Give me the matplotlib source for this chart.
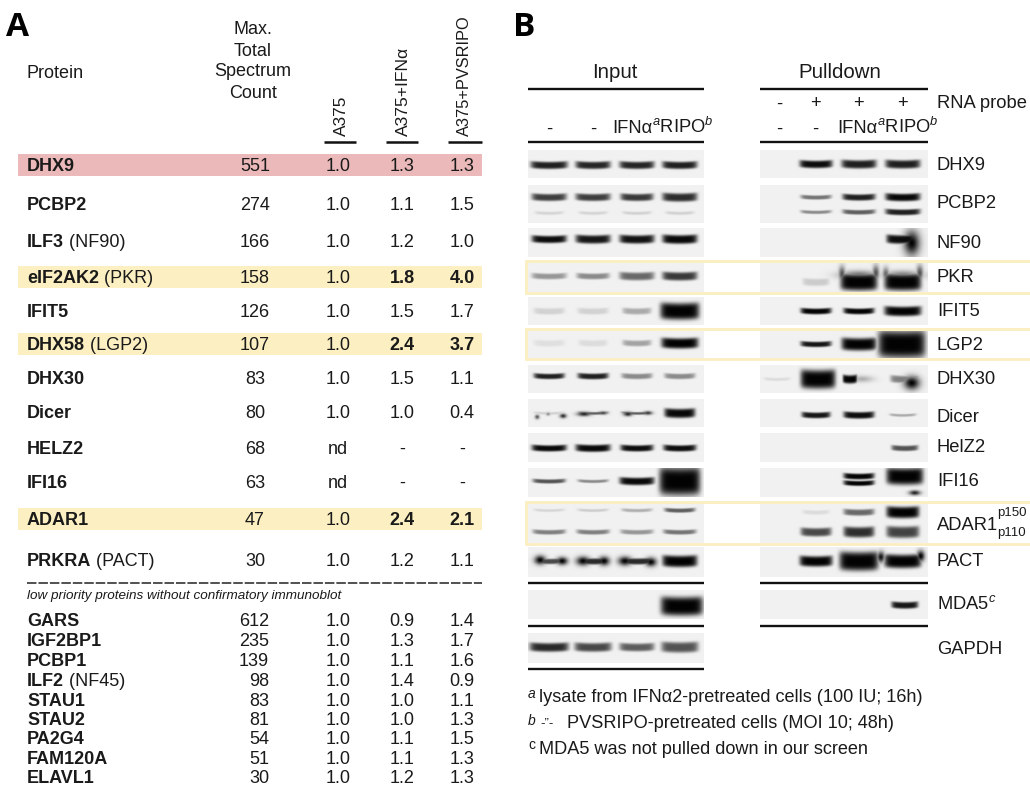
import numpy as np
import matplotlib
matplotlib.use("Agg")
import matplotlib.pyplot as plt
from matplotlib.patches import Rectangle

plt.rcParams['font.family'] = ['Liberation Sans', 'DejaVu Sans']
plt.rcParams['mathtext.fontset'] = 'custom'
plt.rcParams['mathtext.rm'] = 'Liberation Sans'
plt.rcParams['mathtext.it'] = 'Liberation Sans:italic'
plt.rcParams['mathtext.bf'] = 'Liberation Sans:bold'

# ---------- Panel A table ----------
proteins = ['DHX9', 'PCBP2', 'ILF3', 'eIF2AK2', 'IFIT5', 'DHX58', 'DHX30', 'Dicer', 'HELZ2', 'IFI16', 'ADAR1', 'PRKRA']
aliases = ['', '', ' (NF90)', ' (PKR)', '', ' (LGP2)', '', '', '', '', '', ' (PACT)']
counts = ['551', '274', '166', '158', '126', '107', '83', '80', '68', '63', '47', '30']
a375 = ['1.0', '1.0', '1.0', '1.0', '1.0', '1.0', '1.0', '1.0', 'nd', 'nd', '1.0', '1.0']
ifn = ['1.3', '1.1', '1.2', '1.8', '1.5', '2.4', '1.5', '1.0', '-', '-', '2.4', '1.2']
pvs = ['1.3', '1.5', '1.0', '4.0', '1.7', '3.7', '1.1', '0.4', '-', '-', '2.1', '1.1']
highlight = {'DHX9': '#ebb9b9', 'eIF2AK2': '#fcf0c2', 'DHX58': '#fcf0c2', 'ADAR1': '#fcf0c2'}
bold_values = {'eIF2AK2', 'DHX58', 'ADAR1'}

low_proteins = ['GARS', 'IGF2BP1', 'PCBP1', 'ILF2', 'STAU1', 'STAU2', 'PA2G4', 'FAM120A', 'ELAVL1']
low_aliases = ['', '', '', ' (NF45)', '', '', '', '', '']
low_counts = ['612', '235', '139', '98', '83', '81', '54', '51', '30']
low_a375 = ['1.0'] * 9
low_ifn = ['0.9', '1.3', '1.1', '1.4', '1.0', '1.0', '1.1', '1.1', '1.2']
low_pvs = ['1.4', '1.7', '1.6', '0.9', '1.1', '1.3', '1.5', '1.3', '1.3']

# ---------- Panel B blots: darkness of each lane, per band ----------
blot_labels = ['DHX9', 'PCBP2', 'NF90', 'PKR', 'IFIT5', 'LGP2', 'DHX30', 'Dicer', 'HelZ2', 'IFI16', 'ADAR1', 'PACT', 'MDA5$^{c}$', 'GAPDH']
input_dark = {
    'DHX9': [[.85, .82, .82, .85]], 'PCBP2': [[.7, .7, .72, .78], [.07, .07, .08, .08]],
    'NF90': [[.95, .9, .92, .97]], 'PKR': [[.3, .35, .5, .72]],
    'IFIT5': [[.08, .08, .22, 1]], 'LGP2': [[.04, .05, .25, 1]],
    'DHX30': [[.85, .85, .35, .35]], 'Dicer': [[.08, .55, .55, .97]],
    'HelZ2': [[.97, .97, .95, .95]], 'IFI16': [[.6, .35, .97, 1]],
    'ADAR1': [[.07, .1, .2, .55], [.4, .4, .3, .45]],
    'PACT': [[.65, .8, .8, 1]], 'MDA5': [[0, 0, 0, 1]], 'GAPDH': [[.8, .65, .55, .6]],
}
pull_dark = {
    'DHX9': [[0, .95, .85, .85]], 'PCBP2': [[0, .45, .85, .97], [0, .35, .55, .85]],
    'NF90': [[0, 0, 0, .95]], 'PKR': [[0, .1, 1, 1]],
    'IFIT5': [[0, 1, 1, 1]], 'LGP2': [[0, .9, 1, 1]],
    'DHX30': [[.05, 1, 1, .4]], 'Dicer': [[0, .9, .95, .22]],
    'HelZ2': [[0, 0, 0, .6]], 'IFI16': [[0, 0, 1, 1], [0, 0, 1, 0]],
    'ADAR1': [[0, .05, .5, 1], [0, .65, .78, .68]],
    'PACT': [[0, 1, 1, 1]], 'MDA5': [[0, 0, 0, .9]],
}

# ---------- layout (pixels) ----------
W, H = 1030, 787
fig = plt.figure(figsize=(W / 100, H / 100), dpi=100)
ax = fig.add_axes([0, 0, 1, 1])
ax.set_xlim(0, W)
ax.set_ylim(H, 0)
ax.axis('off')
TXT = '#1a1a1a'
renderer = fig.canvas.get_renderer()

row_y = [165, 204, 241, 277, 311, 344, 378, 412, 448, 482, 519, 560]
low_y = [620, 640, 660, 680, 700, 719, 738, 758, 777]
col_x = [338, 402, 462]
FS = 13


def name(x, y, bold, plain):
    t = ax.text(x, y, bold, fontsize=FS, weight='bold', color=TXT, va='baseline', ha='left')
    if plain:
        e = t.get_window_extent(renderer).transformed(ax.transData.inverted())
        ax.text(e.x1, y, plain, fontsize=FS, color=TXT, va='baseline', ha='left')


for i, p in enumerate(proteins):
    y = row_y[i]
    if p in highlight:
        ax.add_patch(Rectangle((18, y - 11), 464, 21.5, fc=highlight[p], ec='none', zorder=0))
    name(27, y + 6, p, aliases[i])
    ax.text(255, y + 6, counts[i], fontsize=FS, ha='center', va='baseline', color=TXT)
    for cx, col in zip(col_x, (a375, ifn, pvs)):
        ax.text(cx, y + 6, col[i], fontsize=FS, ha='center', va='baseline', color=TXT,
                weight='bold' if (p in bold_values and col is not a375) else 'normal')

for i, p in enumerate(low_proteins):
    y = low_y[i]
    name(27, y + 6, p, low_aliases[i])
    ax.text(269, y + 6, low_counts[i], fontsize=FS, ha='right', va='baseline', color=TXT)
    for cx, col in zip(col_x, (low_a375, low_ifn, low_pvs)):
        ax.text(cx, y + 6, col[i], fontsize=FS, ha='center', va='baseline', color=TXT)

for s, y in zip(['Max.', 'Total', 'Spectrum', 'Count'], [30, 51, 72, 94]):
    ax.text(253, y, s, fontsize=FS, ha='center', va='center', color=TXT)
ax.text(27, 73, 'Protein', fontsize=FS, ha='left', va='center', color=TXT)
for s, x, fz in zip(['A375', 'A375+IFNα', 'A375+PVSRIPO'], [341, 403, 464], [12.4, 12.6, 11.8]):
    ax.text(x, 136, s, fontsize=fz, rotation=90, ha='center', va='bottom', color=TXT)
for x0, x1 in [(324, 356), (386, 418), (448, 482)]:
    ax.plot([x0, x1], [142, 142], color='#111111', lw=1.8, solid_capstyle='butt')
ax.plot([27, 482], [583, 583], color='#222222', lw=1.1, dashes=(6.2, 1.3))
ax.text(27, 596, 'low priority proteins without confirmatory immunoblot', fontsize=9.7,
        style='italic', va='center', color=TXT)

ax.text(6, 27, 'A', fontsize=24, weight='bold', family='Open Sans', va='center', color='black')
ax.text(513, 27, 'B', fontsize=24, weight='bold', family='Open Sans', va='center', color='black')

# ---------- blots ----------
input_lanes = [549, 593, 637, 680]
pull_lanes = [780, 816, 859, 903]
panel_rows = {'DHX9': (150, 178), 'PCBP2': (185, 223), 'NF90': (228, 257), 'PKR': (263, 292),
              'IFIT5': (297, 325), 'LGP2': (331, 358), 'DHX30': (365, 393), 'Dicer': (399, 427),
              'HelZ2': (433, 462), 'IFI16': (468, 497), 'ADAR1': (503, 543), 'PACT': (547, 577),
              'MDA5': (590, 619), 'GAPDH': (633, 663)}
# band geometry: y centre per band, half height and half width per lane
input_geom = {
    'DHX9': [(165, [3.5, 3.5, 3.5, 3.5], [18, 17, 17, 17])],
    'PCBP2': [(197, [3.4, 3.4, 3.4, 4], [17, 17, 16, 17]), (213, [1.5] * 4, [14] * 4)],
    'NF90': [(239, [3.5, 4, 4, 4.2], [17, 17, 17, 17])],
    'PKR': [(276, [2.8, 2.8, 3.8, 4], [17, 16, 17, 17])],
    'IFIT5': [(311, [3, 3, 3, 8], [15, 15, 14, 19])],
    'LGP2': [(343, [3, 3, 2.8, 5], [15, 14, 14, 18])],
    'DHX30': [(376, [2.6, 2.8, 2.6, 2.6], [15, 15, 15, 15])],
    'Dicer': [(413, [1.3, 1.3, 1.3, 4.4], [15, 15, 15, 15])],
    'HelZ2': [(448, [3, 3.4, 3, 3], [17, 17, 16, 16])],
    'IFI16': [(481, [2, 1.5, 3.6, 13.5], [16, 15, 17, 20])],
    'ADAR1': [(510, [1.3, 1.3, 1.6, 2], [15, 15, 15, 15]), (532, [2.2, 2.2, 2.2, 2.2], [16, 16, 16, 16])],
    'PACT': [(561, [2.6, 3, 3, 5.5], [15, 16, 17, 17])],
    'MDA5': [(606, [9, 9, 9, 9], [20, 20, 20, 20.5])],
    'GAPDH': [(647, [4.2, 4.2, 3.8, 5], [19, 18, 17, 18])],
}
pull_geom = {
    'DHX9': [(164, [3.5, 3.6, 4, 4], [16, 16, 17, 17])],
    'PCBP2': [(197, [2, 2, 3, 3.6], [15, 15, 16, 17]), (212, [1.6, 1.6, 2.2, 2.8], [15, 15, 16, 17])],
    'NF90': [(239, [3, 3, 3, 4.2], [12, 12, 12, 14])],
    'PKR': [(282, [3, 3.5, 8, 8], [14, 13, 18, 18])],
    'IFIT5': [(311, [2.2, 2.8, 2.8, 4.6], [15, 15, 15, 18])],
    'LGP2': [(344, [2.2, 2.6, 6, 13], [15, 15, 17, 23])],
    'DHX30': [(379, [1.5, 9, 4, 3.5], [13, 17, 7, 14])],
    'Dicer': [(415, [2.4, 2.8, 3.2, 1.3], [15, 14, 15, 13])],
    'HelZ2': [(448, [2, 2, 2, 2.6], [12, 12, 12, 13])],
    'IFI16': [(476, [2, 2, 2.8, 8], [13, 13, 15, 18]), (483, [2, 2, 2.4, 2], [13, 13, 15, 15])],
    'ADAR1': [(512, [2, 2, 3, 5.5], [13, 13, 15, 16]), (532, [3.5, 4, 5, 5.5], [15, 15, 15, 16])],
    'PACT': [(561, [4, 5, 9, 6.5], [15, 16, 19, 18])],
    'MDA5': [(605, [2.5, 2.5, 2.5, 3.2], [13, 13, 13, 13])],
}
# offset of a lane's band from the lane centre, where a blot deviates
lane_shift = {('pull', 'LGP2'): [0, 0, 0, -1], ('pull', 'DHX30'): [-3, 2, -9, 2],
              ('pull', 'NF90'): [0, 0, 0, -2], ('pull', 'HelZ2'): [0, 0, 0, 2], ('pull', 'MDA5'): [0, 0, 0, 2],
              ('pull', 'IFI16'): [0, 0, 0, 2], ('input', 'MDA5'): [0, 0, 0, 2]}
# irregular blobs: name -> list of (x, y, half width, half height, darkness)
input_blobs = {
    'Dicer': [(537, 417, 2, 2, .6), (548, 414, 2, 1.5, .35), (563, 416, 3, 2, .8),
              (584, 414, 6, 2, .85), (603, 413, 4, 1.5, .7), (628, 414, 4, 2, .85), (648, 413, 4, 1.7, .75)],
    'PACT': [(540, 560, 5, 4, 1), (562, 561, 5, 3.5, 1), (583, 561, 6, 4, 1), (604, 561, 5, 4, 1),
             (625, 561, 6, 4, 1), (651, 562, 5, 4, 1)],
}
pull_blobs = {
    'NF90': [(912, 243, 7, 11, 1)],
    'PKR': [(859, 275, 17, 4, .45), (903, 275, 17, 4, .4),
            (842, 274, 3, 7, .6), (876, 273, 3, 7, .6), (886, 274, 3, 6, .5), (920, 273, 3, 7, .6)],
    'IFI16': [(915, 493, 5, 2.2, .85)],
    'DHX30': [(912, 383, 7, 6, 1), (862, 379, 10, 3, .2)],
    'PACT': [(921, 556, 3.5, 5, 1), (881, 557, 3.5, 5, .9)],
}


def draw_panel(x0, x1, lanes, dark, geom, blobs, key):
    for nm, (y0, y1) in panel_rows.items():
        if nm not in dark:
            continue
        xs = np.linspace(x0, x1, (x1 - x0) * 2)
        ys = np.linspace(y0, y1, (y1 - y0) * 2)
        X, Y = np.meshgrid(xs, ys)
        v = np.zeros_like(X)
        shift = lane_shift.get((key, nm), [0, 0, 0, 0])
        for lane_darks, (yc, hhs, hws) in zip(dark[nm], geom[nm]):
            for lx, d, hh, hw, sh in zip(lanes, lane_darks, hhs, hws, shift):
                if d <= 0:
                    continue
                cx = lx + sh
                curve = -0.9 * np.clip(np.abs(X - cx) / hw, 0, 1.2) ** 2 + 0.45
                b = np.exp(-(np.abs(X - cx) / hw) ** 8) * np.exp(-(np.abs(Y - yc - curve) / hh) ** 4)
                v = np.maximum(v, b * d)
        for bx, by, bw, bh, d in blobs.get(nm, []):
            b = np.exp(-((X - bx) / bw) ** 2) * np.exp(-((Y - by) / bh) ** 2)
            v = np.maximum(v, b * d)
        v = v ** 0.8
        img = 0.945 * (1 - v) + 0.01 * v
        ax.imshow(img, extent=(x0, x1, y1, y0), cmap='gray', vmin=0, vmax=1, aspect='auto',
                  interpolation='bilinear', zorder=1)


draw_panel(528, 704, input_lanes, input_dark, input_geom, input_blobs, 'input')
draw_panel(760, 928, pull_lanes, pull_dark, pull_geom, pull_blobs, 'pull')
ax.set_xlim(0, W)
ax.set_ylim(H, 0)

# highlight outlines
for y0, y1 in [(261, 292.5), (328.5, 358.5), (502, 543.5)]:
    ax.plot([W + 2, 526, 526, W + 2], [y0, y0, y1, y1], color='#fbeec0', lw=2, zorder=2,
            solid_joinstyle='miter')

# header lines
for x0, x1, ys in [(528, 704, (89, 142, 583, 626, 669)), (760, 928, (89, 142, 583, 626))]:
    for y in ys:
        ax.plot([x0, x1], [y, y], color='#111111', lw=1.7, solid_capstyle='butt', zorder=3)

FB = 13.2
ax.text(615, 73, 'Input', fontsize=14.7, ha='center', va='center', color=TXT)
ax.text(840, 73, 'Pulldown', fontsize=14.7, ha='center', va='center', color=TXT)
for x, s in zip(pull_lanes, ['-', '+', '+', '+']):
    ax.text(x - 1, 104, s, fontsize=FB, ha='center', va='center', color=TXT)
ax.text(937, 104, 'RNA probe', fontsize=FB, ha='left', va='center', color=TXT)
for x in input_lanes[:2]:
    ax.text(x, 129, '-', fontsize=FB, ha='center', va='center', color=TXT)
for x in pull_lanes[:2]:
    ax.text(x - 1, 129, '-', fontsize=FB, ha='center', va='center', color=TXT)
for x in (612, 837):
    t = ax.text(x, 133, 'IFNα', fontsize=FB, ha='left', va='baseline', color=TXT)
    e = t.get_window_extent(renderer).transformed(ax.transData.inverted())
    ax.text(e.x1, 133, '$^{\\mathit{a}}$RIPO$^{\\mathit{b}}$', fontsize=FB, ha='left', va='baseline', color=TXT)

label_y = [165, 203, 243, 277, 311, 346, 379, 417, 448, 482, 525, 562, 604, 650]
for s, y in zip(blot_labels, label_y):
    ax.text(937, y, s, fontsize=FB, ha='left', va='center', color=TXT)
ax.text(997, 513, 'p150', fontsize=9.5, ha='left', va='center', color=TXT)
ax.text(997, 533, 'p110', fontsize=9.5, ha='left', va='center', color=TXT)

# footnotes
FN = 13.1
for mark, y in zip('abc', [694, 721, 745]):
    ax.text(528, y, mark, fontsize=10, style='italic' if mark != 'c' else 'normal', va='center', color=TXT)
ax.text(539, 697, 'lysate from IFNα2-pretreated cells (100 IU; 16h)', fontsize=FN, va='center', color=TXT)
ax.text(540, 723, '-”-', fontsize=9.5, va='center', color=TXT)
ax.text(567, 723, 'PVSRIPO-pretreated cells (MOI 10; 48h)', fontsize=FN, va='center', color=TXT)
ax.text(539, 749, 'MDA5 was not pulled down in our screen', fontsize=FN, va='center', color=TXT)

fig.savefig('out.png', dpi=100, facecolor='white')
